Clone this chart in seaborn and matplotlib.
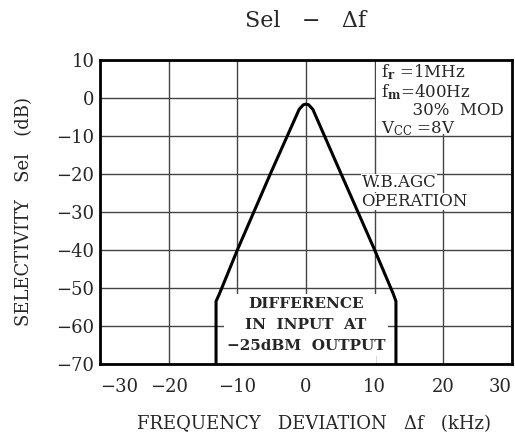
import matplotlib
matplotlib.use("Agg")
import matplotlib.pyplot as plt
from matplotlib.patches import Rectangle
import seaborn as sns
import pandas as pd

# Selectivity curve (kHz, dB)
freq_dev = [-13.1, -13.1, -12.6, -10.0, -5.2, -1.0, -0.4, 0.0, 0.4, 1.0, 5.0, 10.0, 12.7, 13.1, 13.1]
sel_db = [-70, -53.5, -51.5, -40, -20, -3.0, -1.8, -1.6, -1.8, -3.0, -19.5, -40, -51.5, -53.5, -70]

x_ticks = [-30, -20, -10, 0, 10, 20, 30]
y_ticks = [10, 0, -10, -20, -30, -40, -50, -60, -70]

cond_text = "f$_\\mathbf{r}$ =1MHz\nf$_\\mathbf{m}$=400Hz\n      30%  MOD\nV$_\\mathrm{CC}$ =8V"
agc_lines = ["W.B.AGC", "OPERATION"]
diff_text = "DIFFERENCE\nIN  INPUT  AT\n\u221225dBM  OUTPUT"

df = pd.DataFrame({"df": freq_dev, "sel": sel_db})

sns.set_style("white")
plt.rcParams["font.family"] = ["DejaVu Serif"]
plt.rcParams["mathtext.fontset"] = "dejavuserif"
plt.rcParams["axes.unicode_minus"] = True

fig = plt.figure(figsize=(5.15, 4.41), dpi=100)
ax = fig.add_axes([100 / 515, 1 - 364 / 441, 412 / 515, 304 / 441])

ax.set_xlim(-30, 30)
ax.set_ylim(-70, 10)
ax.set_xticks(x_ticks)
ax.set_yticks(y_ticks)
ax.grid(True, color="#444444", linewidth=1.0)
ax.set_axisbelow(True)
for s in ax.spines.values():
    s.set_color("black")
    s.set_linewidth(2.0)
ax.tick_params(axis="x", length=0, labelsize=13, pad=10)
ax.tick_params(axis="y", length=0, labelsize=13, pad=4)
xl = ax.get_xticklabels()
xl[0].set_ha("left")
xl[-1].set_ha("right")

# white areas behind the text blocks
ax.add_patch(Rectangle((10.15, -9.6), 20, 20, facecolor="white", edgecolor="none", zorder=1.5))
ax.add_patch(Rectangle((-10.2, -70), 20.4, 9.8, facecolor="white", edgecolor="none", zorder=1.5))

sns.lineplot(data=df, x="df", y="sel", sort=False, estimator=None, color="black",
             linewidth=2.2, ax=ax, zorder=5)

ax.text(10.9, 9.3, cond_text, fontsize=12, va="top", ha="left", linespacing=1.0, zorder=4)
for txt, yy in zip(agc_lines, [-22.3, -27.2]):
    ax.text(8.1, yy, txt, fontsize=12, va="center", ha="left", zorder=4,
            bbox=dict(facecolor="white", edgecolor="none", pad=0.3))
ax.text(0, -59.7, diff_text, fontsize=11, fontweight="bold", va="center", ha="center", linespacing=1.65,
        zorder=4, bbox=dict(facecolor="white", edgecolor="none", pad=2.0))

ax.set_title("Sel   \u2212   \u0394f", fontsize=16, pad=24)
ax.set_xlabel("FREQUENCY   DEVIATION   \u0394f   (kHz)", fontsize=13, labelpad=14)
ax.xaxis.label.set_x(0.52)
ax.set_ylabel("SELECTIVITY   Sel   (dB)", fontsize=13, labelpad=17)

fig.savefig("out.png", dpi=100)
